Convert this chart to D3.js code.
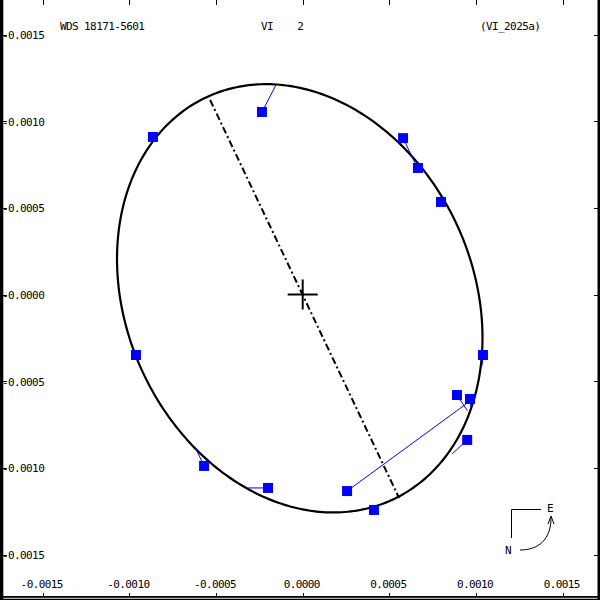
<!DOCTYPE html>
<html>
<head>
<meta charset="utf-8">
<script src="https://cdn.jsdelivr.net/npm/d3@7"></script>
<style>
  html, body { margin: 0; padding: 0; background: #fff; }
  text { font-family: "DejaVu Sans Mono", "Liberation Mono", monospace; font-size: 11px; letter-spacing: -0.6px; fill: #000; white-space: pre; }
</style>
</head>
<body>
<svg id="chart" width="600" height="600"></svg>
<script>
// ---- data ----
const titleLeft = "WDS 18171-5601";
const titleMid = "VI    2";
const titleRight = "(VI_2025a)";

const xTickValues = [-0.0015, -0.001, -0.0005, 0, 0.0005, 0.001, 0.0015];
const xTickLabels = ["-0.0015", "-0.0010", "-0.0005", "0.0000", "0.0005", "0.0010", "0.0015"];
const yTickValues = [0.0015, 0.001, 0.0005, 0, -0.0005, -0.001, -0.0015];
const yTickLabels = ["-0.0015", "-0.0010", "-0.0005", "-0.0000", "-0.0005", "-0.0010", "-0.0015"];

// observed positions
const obsX = [-0.000864, -0.000235, 0.000579, 0.000665, 0.000798, 0.001040, 0.000890, 0.000965, 0.000949, 0.000256, 0.000411, -0.000200, -0.000569, -0.000962];
const obsY = [0.000909, 0.001053, 0.000902, 0.000730, 0.000534, -0.000349, -0.000580, -0.000603, -0.000839, -0.001134, -0.001243, -0.001116, -0.000989, -0.000349];
// predicted positions on the orbit (O-C line ends)
const predX = [-0.000864, -0.000154, 0.000648, 0.000665, 0.000798, 0.001034, 0.000950, 0.000970, 0.000862, 0.000942, 0.000411, -0.000316, -0.000621, -0.000962];
const predY = [0.000909, 0.001209, 0.000759, 0.000730, 0.000534, -0.000413, -0.000670, -0.000650, -0.000920, -0.000632, -0.001243, -0.001116, -0.000880, -0.000349];

// apparent orbit ellipse
const orbitCenter = [-0.000017, -0.000022];
const orbitA = 0.001279;
const orbitB = 0.001001;
const orbitAngleDeg = -65.45;

// line of nodes (through primary)
const nodeLineX = [-0.000534, 0.000556];
const nodeLineY = [0.001122, -0.001174];

// ---- drawing ----
const svg = d3.select("#chart");
const x = d3.scaleLinear().domain([-0.0015, 0.0015]).range([42.7, 562.7]);
const y = d3.scaleLinear().domain([-0.0015, 0.0015]).range([554.5, 34.5]);

// frame
svg.append("rect").attr("x", 0).attr("y", 0).attr("width", 3.3).attr("height", 600).attr("fill", "#000");
svg.append("rect").attr("x", 597.5).attr("y", 0).attr("width", 2.5).attr("height", 600).attr("fill", "#000");
svg.append("rect").attr("x", 0).attr("y", 596).attr("width", 600).attr("height", 1.8).attr("fill", "#000");
svg.append("rect").attr("x", 0).attr("y", 598.7).attr("width", 600).attr("height", 1.3).attr("fill", "#000");

// ticks via axes
const topAxis = d3.axisBottom(x).tickValues(xTickValues).tickSize(5).tickFormat("");
const gTop = svg.append("g").attr("transform", "translate(0,0)").call(topAxis);
gTop.select(".domain").remove();
const botAxis = d3.axisTop(x).tickValues(xTickValues).tickSize(4).tickFormat("");
const gBot = svg.append("g").attr("transform", "translate(0,596.5)").call(botAxis);
gBot.select(".domain").remove();
const leftAxis = d3.axisRight(y).tickValues(yTickValues).tickSize(4).tickFormat("");
const gLeft = svg.append("g").attr("transform", "translate(3.3,0)").call(leftAxis);
gLeft.select(".domain").remove();
const rightAxis = d3.axisLeft(y).tickValues(yTickValues).tickSize(4).tickFormat("");
const gRight = svg.append("g").attr("transform", "translate(597.5,0)").call(rightAxis);
gRight.select(".domain").remove();
svg.selectAll(".tick line").attr("stroke", "#000").attr("stroke-width", 1).attr("shape-rendering", "crispEdges");

// tick labels
svg.append("g").selectAll("text").data(xTickValues).join("text")
  .attr("x", d => x(d) - 1).attr("y", 587.5).attr("text-anchor", "middle")
  .text((d, i) => xTickLabels[i]);
svg.append("g").selectAll("text").data(yTickValues).join("text")
  .attr("x", 2).attr("y", d => y(d) + 4.5).attr("text-anchor", "start")
  .text((d, i) => yTickLabels[i]);

// titles
svg.append("text").attr("x", 60).attr("y", 29.5).text(titleLeft);
svg.append("text").attr("x", 261).attr("y", 29.5).text(titleMid);
svg.append("text").attr("x", 480).attr("y", 29.5).text(titleRight);

// orbit ellipse
const th = orbitAngleDeg * Math.PI / 180;
const orbitPts = d3.range(0, 361).map(k => {
  const t = k * Math.PI / 180;
  const u = orbitA * Math.cos(t), v = orbitB * Math.sin(t);
  return [orbitCenter[0] + u * Math.cos(th) - v * Math.sin(th),
          orbitCenter[1] + u * Math.sin(th) + v * Math.cos(th)];
});
svg.append("path")
  .attr("d", d3.line().x(d => x(d[0])).y(d => y(d[1]))(orbitPts) + "Z")
  .attr("fill", "none").attr("stroke", "#000").attr("stroke-width", 2.2);

// line of nodes
svg.append("line")
  .attr("x1", x(nodeLineX[0])).attr("y1", y(nodeLineY[0]))
  .attr("x2", x(nodeLineX[1])).attr("y2", y(nodeLineY[1]))
  .attr("stroke", "#000").attr("stroke-width", 2).attr("stroke-dasharray", "7,3,2,3");

// primary cross
const cx0 = x(0), cy0 = y(0);
svg.append("line").attr("x1", cx0 - 15).attr("x2", cx0 + 15).attr("y1", cy0).attr("y2", cy0).attr("stroke", "#000").attr("stroke-width", 2);
svg.append("line").attr("x1", cx0).attr("x2", cx0).attr("y1", cy0 - 15).attr("y2", cy0 + 15).attr("stroke", "#000").attr("stroke-width", 2);

// O-C lines
const idx = d3.range(obsX.length);
svg.append("g").selectAll("line").data(idx).join("line")
  .attr("x1", i => x(obsX[i])).attr("y1", i => y(obsY[i]))
  .attr("x2", i => x(predX[i])).attr("y2", i => y(predY[i]))
  .attr("stroke", "#0000ff").attr("stroke-width", 1);

// observation squares
svg.append("g").selectAll("rect").data(idx).join("rect")
  .attr("x", i => x(obsX[i]) - 5).attr("y", i => y(obsY[i]) - 5)
  .attr("width", 10).attr("height", 10).attr("fill", "#0000ff");

// compass
const comp = svg.append("g").attr("fill", "none").attr("stroke", "#000").attr("stroke-width", 1);
comp.append("path").attr("d", "M541,509.5 H511.5 V538");
comp.append("path").attr("d", "M520,550 C538,550 551,540 551,518");
comp.append("path").attr("d", "M548,524 L551,516 L554,524");
svg.append("text").attr("x", 550).attr("y", 512).attr("text-anchor", "middle").text("E");
svg.append("text").attr("x", 508).attr("y", 554).attr("text-anchor", "middle").text("N");
</script>
</body>
</html>
